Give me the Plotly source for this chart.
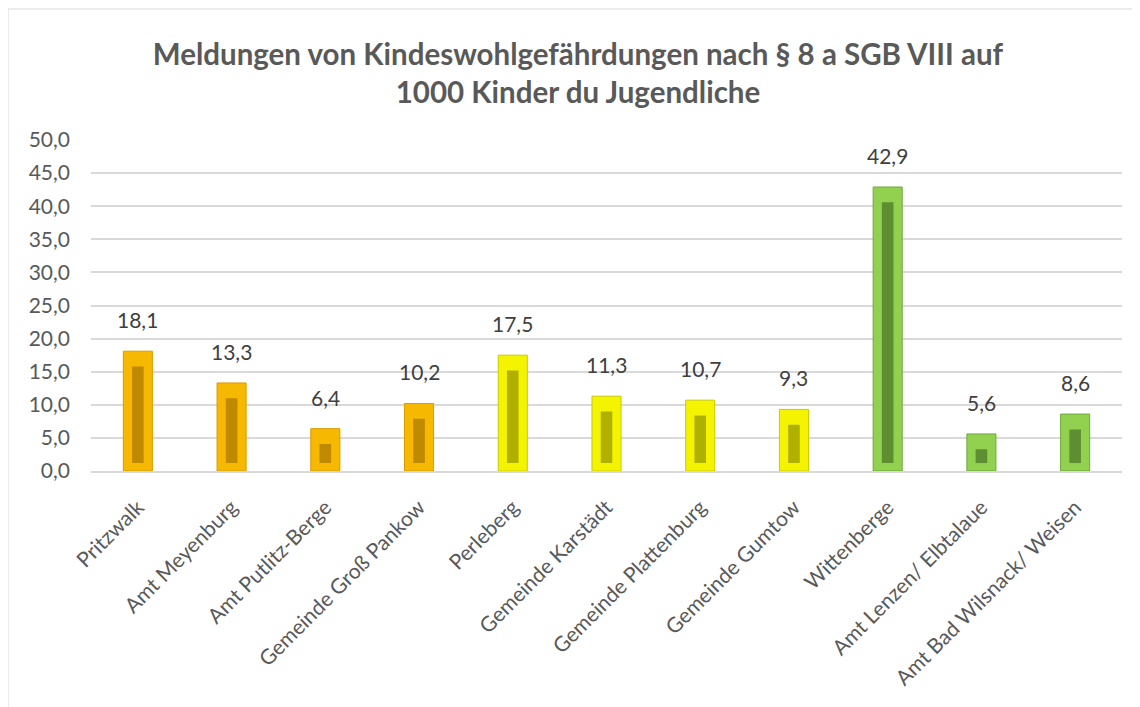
import plotly.graph_objects as go

# --- Daten ---
gemeinden = [
    "Pritzwalk", "Amt Meyenburg", "Amt Putlitz-Berge", "Gemeinde Groß Pankow",
    "Perleberg", "Gemeinde Karstädt", "Gemeinde Plattenburg", "Gemeinde Gumtow",
    "Wittenberge", "Amt Lenzen/ Elbtalaue", "Amt Bad Wilsnack/ Weisen",
]
meldungen = [18.1, 13.3, 6.4, 10.2, 17.5, 11.3, 10.7, 9.3, 42.9, 5.6, 8.6]
gruppe = ["orange"] * 4 + ["gelb"] * 4 + ["gruen"] * 3

# Farben je Gruppe: (außen, Rand, innen)
farben = {
    "orange": ("#F6B800", "#D99C00", "#C08A00"),
    "gelb": ("#F4F400", "#CACA00", "#B0B000"),
    "gruen": ("#92D050", "#6FA83A", "#5E8E32"),
}

aussen = [farben[g][0] for g in gruppe]
rand = [farben[g][1] for g in gruppe]
innen = [farben[g][2] for g in gruppe]

fig = go.Figure()

# Außenbalken (Fase)
fig.add_trace(go.Bar(
    x=gemeinden, y=meldungen, width=0.31,
    marker=dict(color=aussen, line=dict(color=rand, width=1)),
    hoverinfo="x+y", showlegend=False,
))

# Innenfläche – simuliert den Relief-Effekt
fig.add_trace(go.Bar(
    x=gemeinden, y=[v - 3.3 for v in meldungen], base=1.1, width=0.14,
    marker=dict(color=innen, line=dict(color=aussen, width=1.5)),
    hoverinfo="skip", showlegend=False,
))

# Datenbeschriftungen über den Balken
beschriftung = [
    dict(x=g, y=v, text=f"{v:.1f}".replace(".", ","), showarrow=False,
         yanchor="bottom", yshift=17, font=dict(size=21, color="#404040"))
    for g, v in zip(gemeinden, meldungen)
]

fig.update_layout(
    barmode="overlay",
    width=1140, height=707,
    margin=dict(l=83, r=26, t=132, b=244),
    paper_bgcolor="white", plot_bgcolor="white",
    separators=",.",
    font=dict(family="Lato, Open Sans, sans-serif", color="#595959"),
    title=dict(
        text="<b>Meldungen von Kindeswohlgefährdungen nach § 8 a SGB VIII auf<br>1000 Kinder du Jugendliche</b>",
        x=0.5, xanchor="center", y=0.92, yanchor="middle",
        font=dict(size=29.5, color="#595959"),
    ),
    xaxis=dict(
        tickangle=-45, tickfont=dict(size=21, color="#595959"),
        showline=True, linecolor="#d9d9d9", linewidth=1.5,
        ticks="outside", ticklen=14, tickcolor="rgba(0,0,0,0)",
        showgrid=False,
    ),
    yaxis=dict(
        range=[0, 50], dtick=5, tickformat=".1f",
        tickfont=dict(size=21, color="#595959"), ticklabelstandoff=20,
        showgrid=True, gridcolor="#d9d9d9", gridwidth=1.5,
        zeroline=False, showline=False, ticklen=0,
    ),
    annotations=beschriftung,
    shapes=[dict(
        type="rect", xref="paper", yref="paper",
        x0=-0.0805, x1=1.0242, y0=-0.734, y1=1.3958,
        line=dict(color="#d9d9d9", width=1), layer="below",
    )],
)

fig.write_html("out.html")
